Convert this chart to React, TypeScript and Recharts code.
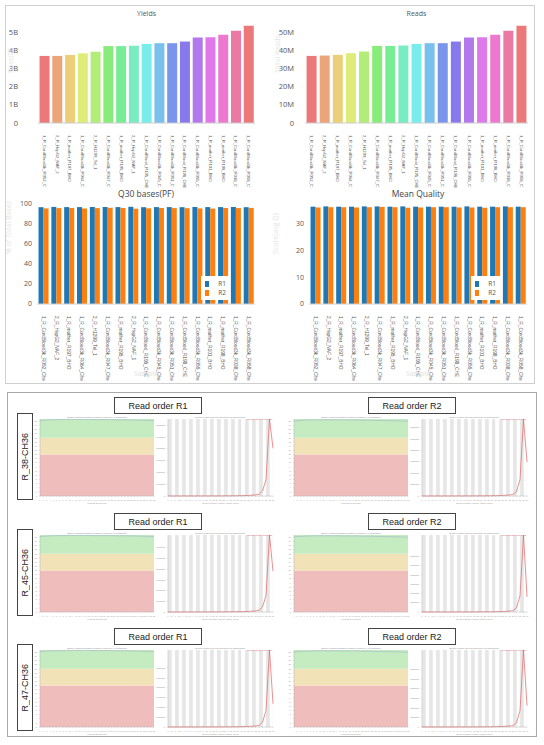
import React from 'react';
import {
  BarChart, Bar, XAxis, YAxis, Cell, Legend, ComposedChart, LineChart, Line, CartesianGrid, ReferenceArea,
} from 'recharts';

// sample names as printed under the Yields / Reads charts
const samples = [
  '1_R_CordBlood3k_R052_C', '2_R_HepG2_NAF_2', '1_R_mother_R197_BHO', '1_R_CordBlood3k_R064_C',
  '2_R_H1299_Tel_1', '1_R_CordBlood3k_R047_C', '1_R_mother_R195_BHO', '2_R_HepG2_NAF_1',
  '1_R_CordBlood_R195_CHE', '1_R_CordBlood3k_R045_C', '1_R_CordBlood3k_R051_C', '1_R_CordBlood_R198_CHE',
  '1_R_CordBlood3k_R055_C', '1_R_mother_R101_BHO', '1_R_mother_R198_BHO', '1_R_CordBlood3k_R038_C',
  '1_R_CordBlood3k_R058_C',
];
// same samples, as printed under the Q30 / Mean Quality charts
const samplesLong = [
  '1_R_CordBlood3k_R052_Che', '2_R_HepG2_NAF_2', '1_R_mother_R197_BHO', '1_R_CordBlood3k_R064_Che',
  '2_R_H1299_Tel_1', '1_R_CordBlood3k_R047_Che', '1_R_mother_R195_BHO', '2_R_HepG2_NAF_1',
  '1_R_CordBlood_R195_CHE', '1_R_CordBlood3k_R045_Che', '1_R_CordBlood3k_R051_Che', '1_R_CordBlood_R198_CHE',
  '1_R_CordBlood3k_R055_Che', '1_R_mother_R101_BHO', '1_R_mother_R198_BHO', '1_R_CordBlood3k_R038_Che',
  '1_R_CordBlood3k_R058_Che',
];
const yields = [3.69, 3.69, 3.74, 3.83, 3.92, 4.23, 4.23, 4.25, 4.35, 4.39, 4.39, 4.48, 4.70, 4.72, 4.85, 5.07, 5.35]; // billions
const reads = [36.9, 37.1, 37.5, 38.4, 39.3, 42.4, 42.4, 42.6, 43.5, 43.9, 43.9, 44.8, 47.0, 47.2, 48.5, 50.7, 53.5]; // millions
const q30R1 = [96.8, 97.1, 96.9, 96.9, 97.0, 97.0, 96.9, 97.2, 96.8, 96.9, 96.9, 96.8, 97.0, 96.9, 96.9, 97.0, 96.8];
const q30R2 = [95.6, 95.9, 96.0, 95.5, 95.9, 96.2, 96.0, 95.3, 95.7, 96.0, 95.9, 95.8, 95.6, 95.4, 96.0, 95.9, 96.1];
const mqR1 = [36.5, 36.6, 36.5, 36.5, 36.6, 36.6, 36.5, 36.6, 36.5, 36.5, 36.5, 36.5, 36.6, 36.5, 36.5, 36.6, 36.5];
const mqR2 = [36.2, 36.3, 36.3, 36.2, 36.3, 36.4, 36.3, 36.1, 36.2, 36.3, 36.3, 36.2, 36.2, 36.1, 36.3, 36.3, 36.3];

const yieldTicks = [0, 1, 2, 3, 4, 5];
const readTicks = [0, 10, 20, 30, 40, 50];
const q30Ticks = [0, 20, 40, 60, 80, 100];
const mqTicks = [0, 10, 20, 30];

const barColors = [
  '#ec7979', '#eca479', '#eccf79', '#deec79', '#b2ec79', '#87ec79', '#79ec96', '#79ecc1', '#79ecec',
  '#79c1ec', '#7996ec', '#8779ec', '#b279ec', '#de79ec', '#ec79cf', '#ec79a4', '#ec7979',
];

// per-base quality plots (36 cycles)
const positions = [
  1, 2, 3, 4, 5, 6, 7, 8, 9, 10, 11, 12, 13, 14, 15, 16, 17, 18,
  19, 20, 21, 22, 23, 24, 25, 26, 27, 28, 29, 30, 31, 32, 33, 34, 35, 36,
];
const qualTicks = [0, 2, 4, 6, 8, 10, 12, 14, 16, 18, 20, 22, 24, 26, 28, 30, 32, 34, 36];
const meanPosR1 = [36.2, 36.4, 36.5, 36.6, 36.6, 36.7, 36.7, 36.7, 36.7, 36.8, 36.8, 36.8, 36.8, 36.8, 36.8, 36.8, 36.7, 36.7,
  36.7, 36.7, 36.7, 36.7, 36.7, 36.6, 36.6, 36.6, 36.6, 36.6, 36.5, 36.5, 36.5, 36.4, 36.4, 36.3, 36.3, 36.2];
const meanPosR2 = [36.0, 36.2, 36.3, 36.4, 36.5, 36.5, 36.6, 36.6, 36.6, 36.6, 36.6, 36.6, 36.6, 36.6, 36.6, 36.5, 36.5, 36.5,
  36.5, 36.5, 36.5, 36.4, 36.4, 36.4, 36.4, 36.3, 36.3, 36.3, 36.2, 36.2, 36.2, 36.1, 36.1, 36.0, 36.0, 35.9];

// per-sequence mean quality distribution (thousands of reads), q = 7..37
const qualityScores = [7, 8, 9, 10, 11, 12, 13, 14, 15, 16, 17, 18, 19, 20, 21, 22, 23, 24, 25, 26, 27, 28, 29, 30, 31, 32, 33, 34, 35, 36, 37];
const distTicks = [0, 3000, 6000, 9000, 12000, 15000, 18000];
const distR38R1 = [3, 4, 5, 6, 7, 8, 9, 10, 12, 13, 15, 17, 19, 22, 25, 29, 34, 40, 48, 58, 72, 90, 115, 150, 200, 280, 420, 1300, 4100, 19500, 12100];
const distR38R2 = [2, 3, 4, 5, 6, 7, 8, 9, 11, 12, 14, 16, 18, 21, 24, 28, 33, 39, 47, 57, 70, 88, 112, 148, 195, 270, 400, 1200, 4300, 20200, 8900];
const distR45R1 = [3, 4, 5, 6, 7, 8, 10, 11, 13, 14, 16, 18, 21, 24, 27, 31, 36, 43, 52, 63, 78, 97, 124, 162, 215, 300, 450, 1400, 4600, 21500, 11400];
const distR45R2 = [2, 3, 4, 5, 6, 7, 8, 10, 11, 13, 15, 17, 19, 22, 26, 30, 35, 42, 50, 61, 75, 94, 120, 158, 210, 290, 430, 1350, 5200, 24800, 4900];
const distR47R1 = [3, 4, 5, 6, 7, 9, 10, 11, 13, 15, 17, 19, 22, 25, 28, 33, 38, 45, 54, 66, 82, 102, 130, 170, 225, 310, 470, 1450, 5000, 23500, 7100];
const distR47R2 = [2, 3, 4, 5, 6, 7, 9, 10, 12, 13, 15, 17, 20, 23, 26, 30, 36, 43, 51, 62, 77, 96, 123, 161, 214, 298, 445, 1380, 5100, 24000, 6700];

const rows = [
  { top: 397, sample: 'R_38-CH36', r1: distR38R1, r2: distR38R2 },
  { top: 513, sample: 'R_45-CH36', r1: distR45R1, r2: distR45R2 },
  { top: 628, sample: 'R_47-CH36', r1: distR47R1, r2: distR47R2 },
];

const FONT = '"Open Sans", "Liberation Sans", sans-serif';
const ARIAL = '"Liberation Sans", Arial, sans-serif';

const RotTick = ({ x, y, payload, fs }: any) => (
  <text x={x} y={y} dx={4} dy="0.35em" transform={`rotate(90, ${x}, ${y})`} fontSize={fs}
    fill="#555" fontFamily={ARIAL} textAnchor="start">
    {payload.value}
  </text>
);

const Title = ({ text, left, top, width, size, color }: any) => (
  <div style={{ position: 'absolute', left, top, width, textAlign: 'center', fontSize: size, color, fontFamily: FONT, lineHeight: 1 }}>
    {text}
  </div>
);

const RLegend = ({ payload }: any) => (
  <div style={{ background: '#fff', padding: '3px 4px', fontFamily: FONT, fontSize: 6.5, color: '#555' }}>
    {(payload || []).map((p: any) => (
      <div key={p.value} style={{ display: 'flex', alignItems: 'center', height: 9 }}>
        <span style={{ width: 6, height: 6, background: p.color, display: 'inline-block', marginRight: 9 }} />
        {p.value}
      </div>
    ))}
  </div>
);

function SingleBar({ left, title, values, ticks, domain, suffix, yLabel, tickMargin, width, right }: any) {
  const data = samples.map((s, i) => ({ name: s, value: values[i] }));
  return (
    <div style={{ position: 'absolute', left, top: 5 }}>
      <BarChart width={width} height={186} data={data} margin={{ top: 18, right, bottom: 0, left: 0 }} barCategoryGap="12%">
        <XAxis dataKey="name" interval={0} tick={<RotTick fs={4.2} />} height={68} axisLine={{ stroke: '#ccc' }} tickLine={false} />
        <YAxis width={33} domain={domain} ticks={ticks} interval={0} tickFormatter={(v: number) => (v === 0 ? '0' : `${v}${suffix}`)}
          tick={{ fontSize: 7.5, fill: '#555', fontFamily: FONT }} axisLine={false} tickLine={false} tickSize={6} tickMargin={tickMargin}
          label={{ value: yLabel, angle: -90, position: 'insideLeft', offset: 6, fill: '#e4e4e4', fontSize: 7, fontFamily: FONT }} />
        <Bar dataKey="value" isAnimationActive={false}>
          {data.map((d, i) => <Cell key={d.name} fill={barColors[i]} />)}
        </Bar>
      </BarChart>
      <Title text={title} left={33} top={5} width={width - 33 - right} size={7} color="#555" />
    </div>
  );
}

function PairBar({ left, title, r1, r2, ticks, domain, yLabel, yWidth, width, right, legendLeft }: any) {
  const data = samplesLong.map((s, i) => ({ name: s, R1: r1[i], R2: r2[i] }));
  return (
    <div style={{ position: 'absolute', left, top: 190 }}>
      <BarChart width={width} height={194} data={data} margin={{ top: 14, right, bottom: 0, left: 0 }} barCategoryGap="12%" barGap={0}>
        <XAxis dataKey="name" interval={0} tick={<RotTick fs={4.8} />} height={80} axisLine={{ stroke: '#ccc' }} tickLine={false}
          label={{ value: 'Sample', position: 'insideBottom', offset: 8, fill: '#e2e2e2', fontSize: 7, fontFamily: FONT }} />
        <YAxis width={yWidth} domain={domain} ticks={ticks} interval={0} tick={{ fontSize: 7, fill: '#555', fontFamily: FONT }}
          axisLine={false} tickLine={false} tickSize={3} tickMargin={2}
          label={{ value: yLabel, angle: -90, position: 'insideLeft', offset: 4, fill: '#e4e4e4', fontSize: 7, fontFamily: FONT }} />
        <Bar dataKey="R1" fill="#1f77b4" isAnimationActive={false} />
        <Bar dataKey="R2" fill="#ff7f0e" isAnimationActive={false} />
        <Legend layout="vertical" align="center" verticalAlign="middle" content={<RLegend />}
          wrapperStyle={{ left: legendLeft, top: 86, width: 29 }} />
      </BarChart>
      <Title text={title} left={yWidth} top={0} width={width - yWidth - right} size={8.5} color="#444" />
    </div>
  );
}

const tinyTick = { fontSize: 2.2, fill: '#999', fontFamily: FONT };

function QualChart({ meanQ }: { meanQ: number[] }) {
  const data = positions.map((p, i) => ({ pos: p, mean: meanQ[i] }));
  return (
    <div style={{ position: 'relative' }}>
      <ComposedChart width={128} height={90} data={data} margin={{ top: 5, right: 4, bottom: 0, left: 0 }}>
        <ReferenceArea y1={0} y2={20} fill="#f0bdbd" fillOpacity={1} stroke="none" />
        <ReferenceArea y1={20} y2={28} fill="#f1e2b8" fillOpacity={1} stroke="none" />
        <ReferenceArea y1={28} y2={37} fill="#c5ebc1" fillOpacity={1} stroke="none" />
        <CartesianGrid horizontal={false} stroke="#ffffff" strokeOpacity={0.6} strokeWidth={0.6} />
        <XAxis dataKey="pos" interval={0} tick={tinyTick} tickSize={1} height={8} axisLine={{ stroke: '#aaa', strokeWidth: 0.4 }}
          tickLine={{ stroke: '#aaa', strokeWidth: 0.3 }}
          label={{ value: 'Position in read (bp)', position: 'insideBottom', offset: 0, fontSize: 2.4, fill: '#888' }} />
        <YAxis domain={[0, 37]} ticks={qualTicks} interval={0} width={10} tick={tinyTick} tickSize={1}
          axisLine={{ stroke: '#aaa', strokeWidth: 0.4 }} tickLine={{ stroke: '#aaa', strokeWidth: 0.3 }} />
        <Line dataKey="mean" stroke="#9aaccc" strokeWidth={0.5} dot={false} isAnimationActive={false} />
      </ComposedChart>
      <svg width={128} height={6} style={{ position: 'absolute', left: 0, top: 0 }}>
        <text x={67} y={4} fontSize={2.4} fill="#888" textAnchor="middle" fontFamily={FONT}>
          Quality scores across all bases (Illumina 1.5 encoding)
        </text>
      </svg>
    </div>
  );
}

function DistChart({ counts }: { counts: number[] }) {
  const data = qualityScores.map((q, i) => ({ q, count: counts[i] }));
  return (
    <div style={{ position: 'relative' }}>
      <LineChart width={120} height={90} data={data} margin={{ top: 5, right: 3, bottom: 0, left: 0 }}>
        <CartesianGrid horizontal={false} verticalFill={['#e6e6e6', '#ffffff']} stroke="#f6f6f6" strokeWidth={0.4} />
        <XAxis dataKey="q" type="number" domain={[7, 37]} ticks={qualityScores} interval={0} tick={tinyTick} tickSize={1} height={8}
          axisLine={{ stroke: '#aaa', strokeWidth: 0.4 }} tickLine={{ stroke: '#aaa', strokeWidth: 0.3 }}
          label={{ value: 'Mean Sequence Quality (Phred Score)', position: 'insideBottom', offset: 0, fontSize: 2.4, fill: '#888' }} />
        <YAxis width={12} domain={[0, 'dataMax']} ticks={distTicks} interval={0} tick={tinyTick} tickSize={1}
          tickFormatter={(v: number) => `${v * 1000}`} axisLine={{ stroke: '#aaa', strokeWidth: 0.4 }}
          tickLine={{ stroke: '#aaa', strokeWidth: 0.3 }} />
        <Line dataKey="count" stroke="#e06262" strokeWidth={0.7} dot={false} isAnimationActive={false} />
      </LineChart>
      <svg width={120} height={8} style={{ position: 'absolute', left: 0, top: 0 }}>
        <text x={64} y={4} fontSize={2.4} fill="#888" textAnchor="middle" fontFamily={FONT}>
          Quality score distribution over all sequences
        </text>
        <text x={116} y={6.2} fontSize={2.2} fill="#e06262" textAnchor="end" fontFamily={FONT}>
          Average Quality per read
        </text>
      </svg>
    </div>
  );
}

function Block({ x0, y0, read, sample, counts, meanQ }: any) {
  return (
    <>
      <div style={{
        position: 'absolute', left: x0 + 107, top: y0, width: 88, height: 17, border: '1px solid #444', boxSizing: 'border-box',
        background: '#fff', fontFamily: ARIAL, fontSize: 9, color: '#222', display: 'flex', alignItems: 'center', justifyContent: 'center',
      }}>
        {read}
      </div>
      {sample && (
        <div style={{
          position: 'absolute', left: 17, top: y0 + 16, width: 16, height: 87, border: '1px solid #444', boxSizing: 'border-box',
          display: 'flex', alignItems: 'center', justifyContent: 'center', fontFamily: ARIAL, fontSize: 9, color: '#222',
        }}>
          <span style={{ writingMode: 'vertical-rl', transform: 'rotate(180deg)' }}>{sample}</span>
        </div>
      )}
      <div style={{ position: 'absolute', left: x0 + 23, top: y0 + 17 }}><QualChart meanQ={meanQ} /></div>
      <div style={{ position: 'absolute', left: x0 + 149, top: y0 + 17 }}><DistChart counts={counts} /></div>
    </>
  );
}

export default function App() {
  return (
    <div style={{ position: 'absolute', left: 0, top: 0, width: 544, height: 745, background: '#fff', overflow: 'hidden' }}>
      <div style={{ position: 'absolute', left: 5, top: 5, width: 530, height: 379, border: '1px solid #cfcfcf', boxSizing: 'border-box' }} />
      <SingleBar left={5} width={265} right={15} title="Yields" values={yields} ticks={yieldTicks} domain={[0, 5.5]}
        suffix="B" yLabel="Base(D)" tickMargin={14} />
      <SingleBar left={272} width={263} right={7} title="Reads" values={reads} ticks={readTicks} domain={[0, 55]}
        suffix="M" yLabel="Total Reads" tickMargin={5} />
      <PairBar left={5} width={265} right={15} yWidth={32} title="Q30 bases(PF)" r1={q30R1} r2={q30R2} ticks={q30Ticks}
        domain={[0, 100]} yLabel="% of Total Bases" legendLeft={196} />
      <PairBar left={272} width={263} right={8} yWidth={37} title="Mean Quality" r1={mqR1} r2={mqR2} ticks={mqTicks}
        domain={[0, 37.5]} yLabel="Score(avg Q)" legendLeft={199} />

      <div style={{ position: 'absolute', left: 7, top: 392, width: 530, height: 345, border: '1px solid #a8a8a8', boxSizing: 'border-box' }} />
      {rows.map((r) => (
        <React.Fragment key={r.sample}>
          <Block x0={7} y0={r.top} read="Read order R1" sample={r.sample} counts={r.r1} meanQ={meanPosR1} />
          <Block x0={261} y0={r.top} read="Read order R2" counts={r.r2} meanQ={meanPosR2} />
        </React.Fragment>
      ))}
    </div>
  );
}
